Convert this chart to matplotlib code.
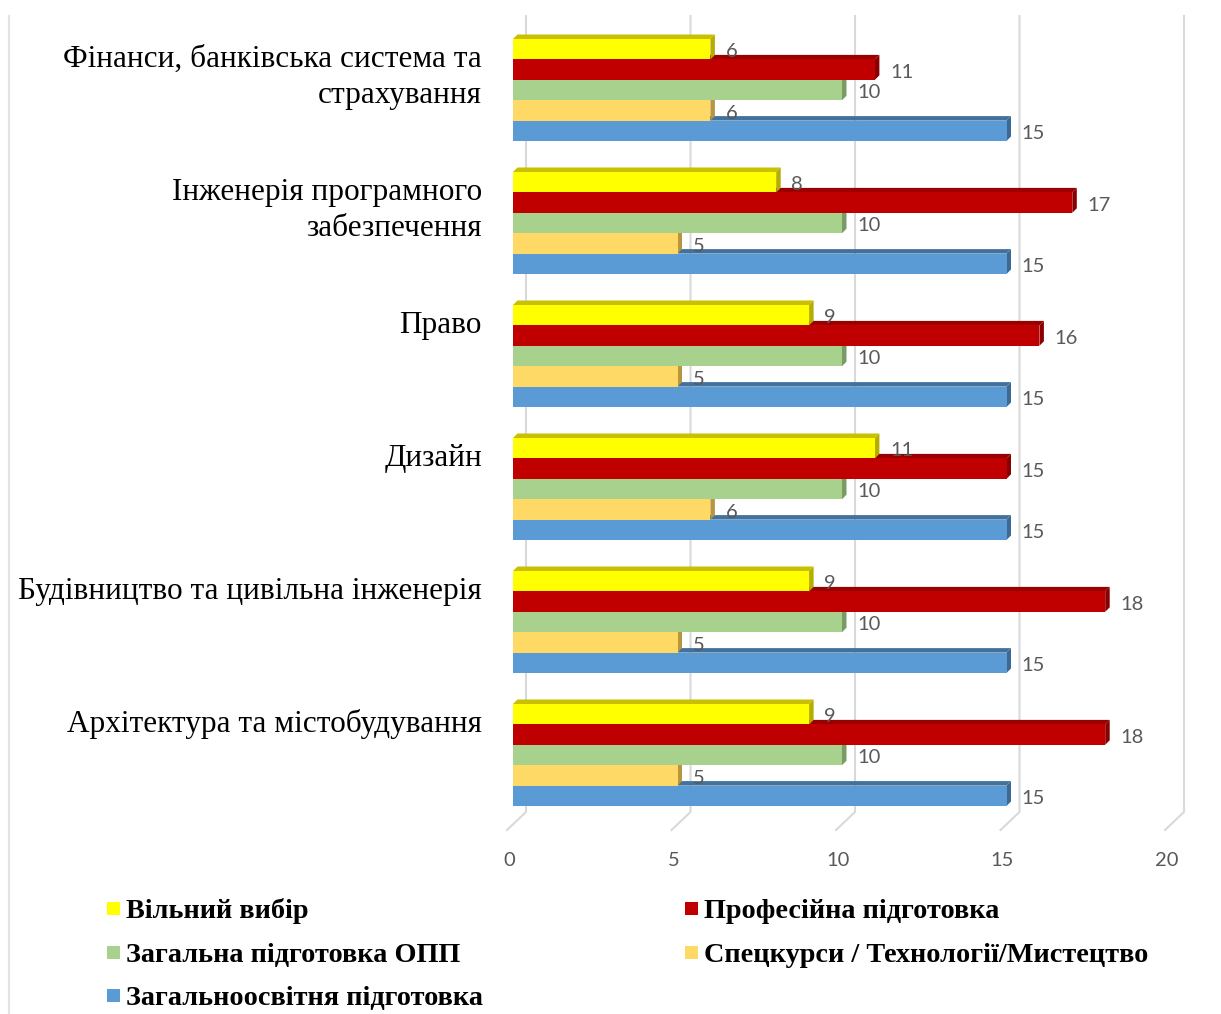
import matplotlib
matplotlib.use("Agg")
import matplotlib.pyplot as plt
from matplotlib.patches import Polygon, Rectangle
from matplotlib.lines import Line2D
from matplotlib.transforms import Affine2D, ScaledTranslation

# ---------------- data ----------------
categories = [
    "Фінанси, банківська система та\nстрахування",
    "Інженерія програмного\nзабезпечення",
    "Право",
    "Дизайн",
    "Будівництво та цивільна інженерія",
    "Архітектура та містобудування",
]
series_names = [
    "Вільний вибір",
    "Професійна підготовка",
    "Загальна підготовка ОПП",
    "Спецкурси / Технології/Мистецтво",
    "Загальноосвітня підготовка",
]
vilnyi = [6, 8, 9, 11, 9, 9]
profesiina = [11, 17, 16, 15, 18, 18]
zagalna_opp = [10, 10, 10, 10, 10, 10]
spetskursy = [6, 5, 5, 6, 5, 5]
zagalnoosvitnia = [15, 15, 15, 15, 15, 15]
series_values = [vilnyi, profesiina, zagalna_opp, spetskursy, zagalnoosvitnia]
x_ticks = [0, 5, 10, 15, 20]

# ---------------- styles ----------------
front = ["#FFFF00", "#C00000", "#A9D18E", "#FFD966", "#5B9BD5"]
topc = ["#C8C000", "#9A0000", "#87A872", "#CCAE52", "#41719C"]
sidec = ["#B5AD00", "#880000", "#7A9A66", "#B8963E", "#3D6A94"]
grid_c = "#D9D9D9"
txt_grey = "#595959"

W, H = 1221, 1014
fig = plt.figure(figsize=(W / 100, H / 100), dpi=100)
PX = Affine2D().scale(1 / W, -1 / H).translate(0, 1) + fig.transFigure

ax_left, ax_right, ax_top, ax_bot = 513, 1171, 16, 812
ax = fig.add_axes([ax_left / W, 1 - ax_bot / H, (ax_right - ax_left) / W, (ax_bot - ax_top) / H])
ax.set_facecolor("none")
for s in ax.spines.values():
    s.set_visible(False)

bar_px = 20.4
stride = 133 / bar_px
first_top_px = 39
ax.set_xlim(0, 20)
ax.set_ylim(-0.5 + (ax_bot - first_top_px) / bar_px, -0.5 - (first_top_px - ax_top) / bar_px)
ax.set_yticks([])

px_x = (ax_right - ax_left) / 20.0
dx = 4.5 / px_x
dy = 4.5 / bar_px

nser = len(series_values)
for gi in range(len(categories)):
    base = gi * stride
    # draw bottom bar first so upper bars cover top faces
    for j in reversed(range(nser)):
        v = series_values[j][gi]
        yc = base + j
        y_top = yc - 0.5
        y_bot = yc + 0.5
        z = 10 + (nser - j) * 3
        top_poly = Polygon([(0, y_top), (v, y_top), (v + dx, y_top - dy), (dx, y_top - dy)],
                           closed=True, facecolor=topc[j], edgecolor="none", zorder=z)
        side_poly = Polygon([(v, y_top), (v + dx, y_top - dy), (v + dx, y_bot - dy), (v, y_bot)],
                            closed=True, facecolor=sidec[j], edgecolor="none", zorder=z + 1)
        ax.add_patch(top_poly)
        ax.add_patch(side_poly)
        ax.barh(yc, v, height=1.0, left=0, color=front[j], edgecolor="none", zorder=z + 2)
        ax.annotate(str(v), xy=(v, yc), xytext=(11, -2), textcoords="offset points",
                    ha="left", va="center", fontsize=14.5, color=txt_grey,
                    family=["Lato", "DejaVu Sans"], zorder=50)
    # category label
    lines = categories[gi].split("\n")
    for k, line in enumerate(lines):
        ax.annotate(line, xy=(0, base), xycoords="data",
                    xytext=(-31 * 0.72, -(10 + 36.5 * k) * 0.72), textcoords="offset points",
                    ha="right", va="center", fontsize=22.5, color="black",
                    family=["Liberation Serif", "DejaVu Serif"], annotation_clip=False)

# gridlines with 3D floor diagonals
for v in x_ticks:
    xd = ax.transData.transform((v, 0))[0]
    xg = xd + 13
    fig.add_artist(Line2D([xg, xg, xg - 19], [ax_top, ax_bot, 830], transform=PX,
                          color=grid_c, lw=1.5, zorder=0))

# tick labels
ax.set_xticks(x_ticks)
ax.set_xticklabels([str(t) for t in x_ticks], fontsize=14.5, color=txt_grey,
                   family=["Lato", "DejaVu Sans"])
ax.tick_params(axis="x", length=0, pad=28.5)
for lab in ax.get_xticklabels():
    lab.set_transform(lab.get_transform() + ScaledTranslation(-4 / 100, 0, fig.dpi_scale_trans))

# left border line
fig.add_artist(Line2D([9, 9], [16, H], transform=PX, color="#E3E3E3", lw=1.5))

# legend (manual, 2 columns)
leg_pos = [(107, 908.5), (685, 908.5), (107, 952.5), (685, 952.5), (107, 995)]
for j, name in enumerate(series_names):
    lx, ly = leg_pos[j]
    fig.add_artist(Rectangle((lx, ly - 6.5), 13, 13, transform=PX, facecolor=front[j],
                             edgecolor="none"))
    fig.text(lx + 19, ly, name, transform=PX, ha="left", va="center_baseline",
             fontsize=20.3, fontweight="bold", color="black",
             family=["Liberation Serif", "DejaVu Serif"])

fig.savefig("out.png", dpi=100)
